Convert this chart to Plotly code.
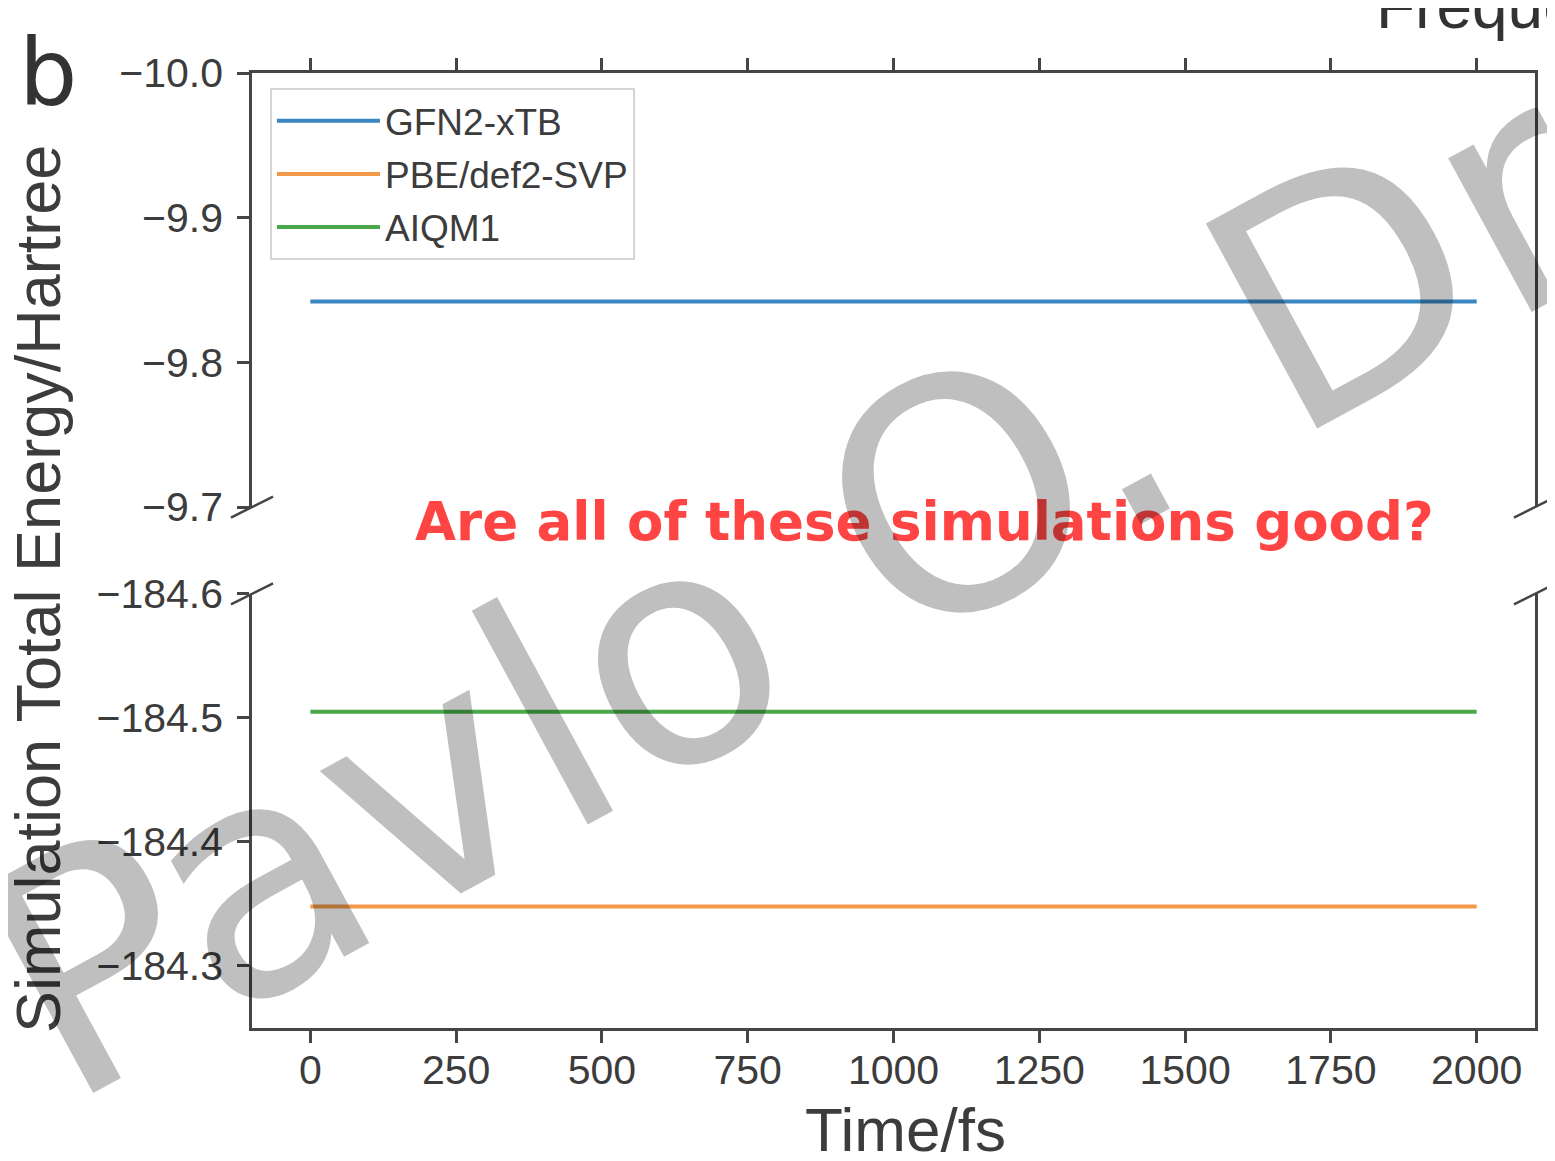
import plotly.graph_objects as go

# ---------------- data ----------------
time_fs = [0, 250, 500, 750, 1000, 1250, 1500, 1750, 2000]
gfn2_xtb = [-9.842, -9.842, -9.842, -9.842, -9.842, -9.842, -9.842, -9.842, -9.842]
pbe_def2svp = [-184.348, -184.348, -184.348, -184.348, -184.348, -184.348, -184.348, -184.348, -184.348]
aiqm1 = [-184.505, -184.505, -184.505, -184.505, -184.505, -184.505, -184.505, -184.505, -184.505]

series_names = ["GFN2-xTB", "PBE/def2-SVP", "AIQM1"]
series_colors = ["#3a86c0", "#f39a4a", "#4aa84a"]

x_ticks = [0, 250, 500, 750, 1000, 1250, 1500, 1750, 2000]
x_ticktext = ["0", "250", "500", "750", "1000", "1250", "1500", "1750", "2000"]
top_yticks = [-10.0, -9.9, -9.8, -9.7]
top_yticktext = ["\u221210.0", "\u22129.9", "\u22129.8", "\u22129.7"]
bot_yticks = [-184.6, -184.5, -184.4, -184.3]
bot_yticktext = ["\u2212184.6", "\u2212184.5", "\u2212184.4", "\u2212184.3"]

# ---------------- figure ----------------
FONT = "Liberation Sans, Arial, sans-serif"
AX = "#454545"
TXT = "#3c3c3c"

fig = go.Figure()
fig.add_trace(go.Scatter(x=time_fs, y=gfn2_xtb, mode="lines", name=series_names[0],
                         legendgroup="g1",
                         line=dict(color=series_colors[0], width=4), xaxis="x2", yaxis="y2"))
fig.add_trace(go.Scatter(x=time_fs, y=pbe_def2svp, mode="lines", name=series_names[1],
                         legendgroup="g2",
                         line=dict(color=series_colors[1], width=4), xaxis="x", yaxis="y"))
fig.add_trace(go.Scatter(x=time_fs, y=aiqm1, mode="lines", name=series_names[2],
                         legendgroup="g3",
                         line=dict(color=series_colors[2], width=4), xaxis="x", yaxis="y"))

top_dom = [0.5455, 1.0]
bot_dom = [0.0, 0.4545]

common_y = dict(showline=True, linecolor=AX, linewidth=2.5, mirror=True,
                ticks="outside", ticklen=12, tickwidth=2.5, tickcolor=AX,
                showgrid=False, zeroline=False,
                tickfont=dict(family=FONT, size=41, color=TXT), ticklabelstandoff=6)

fig.update_layout(
    width=1547, height=1153,
    margin=dict(l=244, r=20, t=65, b=133, autoexpand=False),
    paper_bgcolor="white", plot_bgcolor="white",
    showlegend=True,
    legend=dict(x=0.014, y=0.984, xanchor="left", yanchor="top",
                bgcolor="white", bordercolor="#d4d4d4", borderwidth=2,
                font=dict(family=FONT, size=37, color=TXT),
                tracegroupgap=2, itemwidth=103),
    xaxis=dict(domain=[0, 1], anchor="y", range=[-100, 2100],
               tickvals=x_ticks, ticktext=x_ticktext,
               showline=True, linecolor=AX, linewidth=2.5,
               ticks="outside", ticklen=12, tickwidth=2.5, tickcolor=AX,
               showgrid=False, zeroline=False, automargin=False,
               tickfont=dict(family=FONT, size=41, color=TXT), ticklabelstandoff=-8),
    xaxis2=dict(domain=[0, 1], anchor="y2", side="top", matches="x", range=[-100, 2100],
                tickvals=x_ticks, showticklabels=False,
                showline=True, linecolor=AX, linewidth=2.5,
                ticks="outside", ticklen=12, tickwidth=2.5, tickcolor=AX,
                showgrid=False, zeroline=False, automargin=False),
    yaxis=dict(domain=bot_dom, anchor="x", range=[-184.25, -184.6], automargin=False,
               tickvals=bot_yticks, ticktext=bot_yticktext, **common_y),
    yaxis2=dict(domain=top_dom, anchor="x2", range=[-9.7, -10.0], automargin=False,
                tickvals=top_yticks, ticktext=top_yticktext, **common_y),
)

# broken-axis diagonal marks
dx, dy = 0.0164, 0.011
for xc in (0, 1):
    for yc in (top_dom[0], bot_dom[1]):
        fig.add_shape(type="line", xref="paper", yref="paper",
                      x0=xc - dx, y0=yc - dy, x1=xc + dx, y1=yc + dy,
                      line=dict(color=AX, width=2.5))

# axis titles
fig.add_annotation(text="Simulation Total Energy/Hartree", xref="paper", yref="paper",
                   x=-0.1672, y=0.4602, textangle=-90, showarrow=False,
                   xanchor="center", yanchor="middle",
                   font=dict(family=FONT, size=63, color=TXT))
fig.add_annotation(text="Time/fs", xref="paper", yref="paper",
                   x=0.509, y=-0.1068, showarrow=False,
                   xanchor="center", yanchor="middle",
                   font=dict(family=FONT, size=62, color=TXT))

# panel label
fig.add_annotation(text="b", xref="paper", yref="paper", x=-0.1835, y=0.9995,
                   showarrow=False, xanchor="left", yanchor="middle",
                   font=dict(family="DejaVu Sans", size=92, color="#333333"))

# neighbouring panel title (cut off at the edge, as in the original)
fig.add_annotation(text="Frequency", xref="paper", yref="paper", x=0.8745, y=1.070,
                   showarrow=False, xanchor="left", yanchor="middle",
                   font=dict(family=FONT, size=64, color="#333333"))

# red question
fig.add_annotation(text="<b>Are all of these simulations good?</b>", xref="paper", yref="paper",
                   x=(924 - 252) / 1283, y=(1028 - 521) / 955, showarrow=False,
                   xanchor="center", yanchor="middle",
                   font=dict(family="DejaVu Sans", size=53, color="#ff4444"))

# watermark
fig.add_annotation(text="Pavlo O. Dral", xref="paper", yref="paper",
                   x=0.5175, y=0.532, textangle=-28.5, showarrow=False,
                   xanchor="center", yanchor="middle",
                   font=dict(family="DejaVu Sans", size=320, color="rgba(0,0,0,0.25)"))

fig.write_html("out.html")
